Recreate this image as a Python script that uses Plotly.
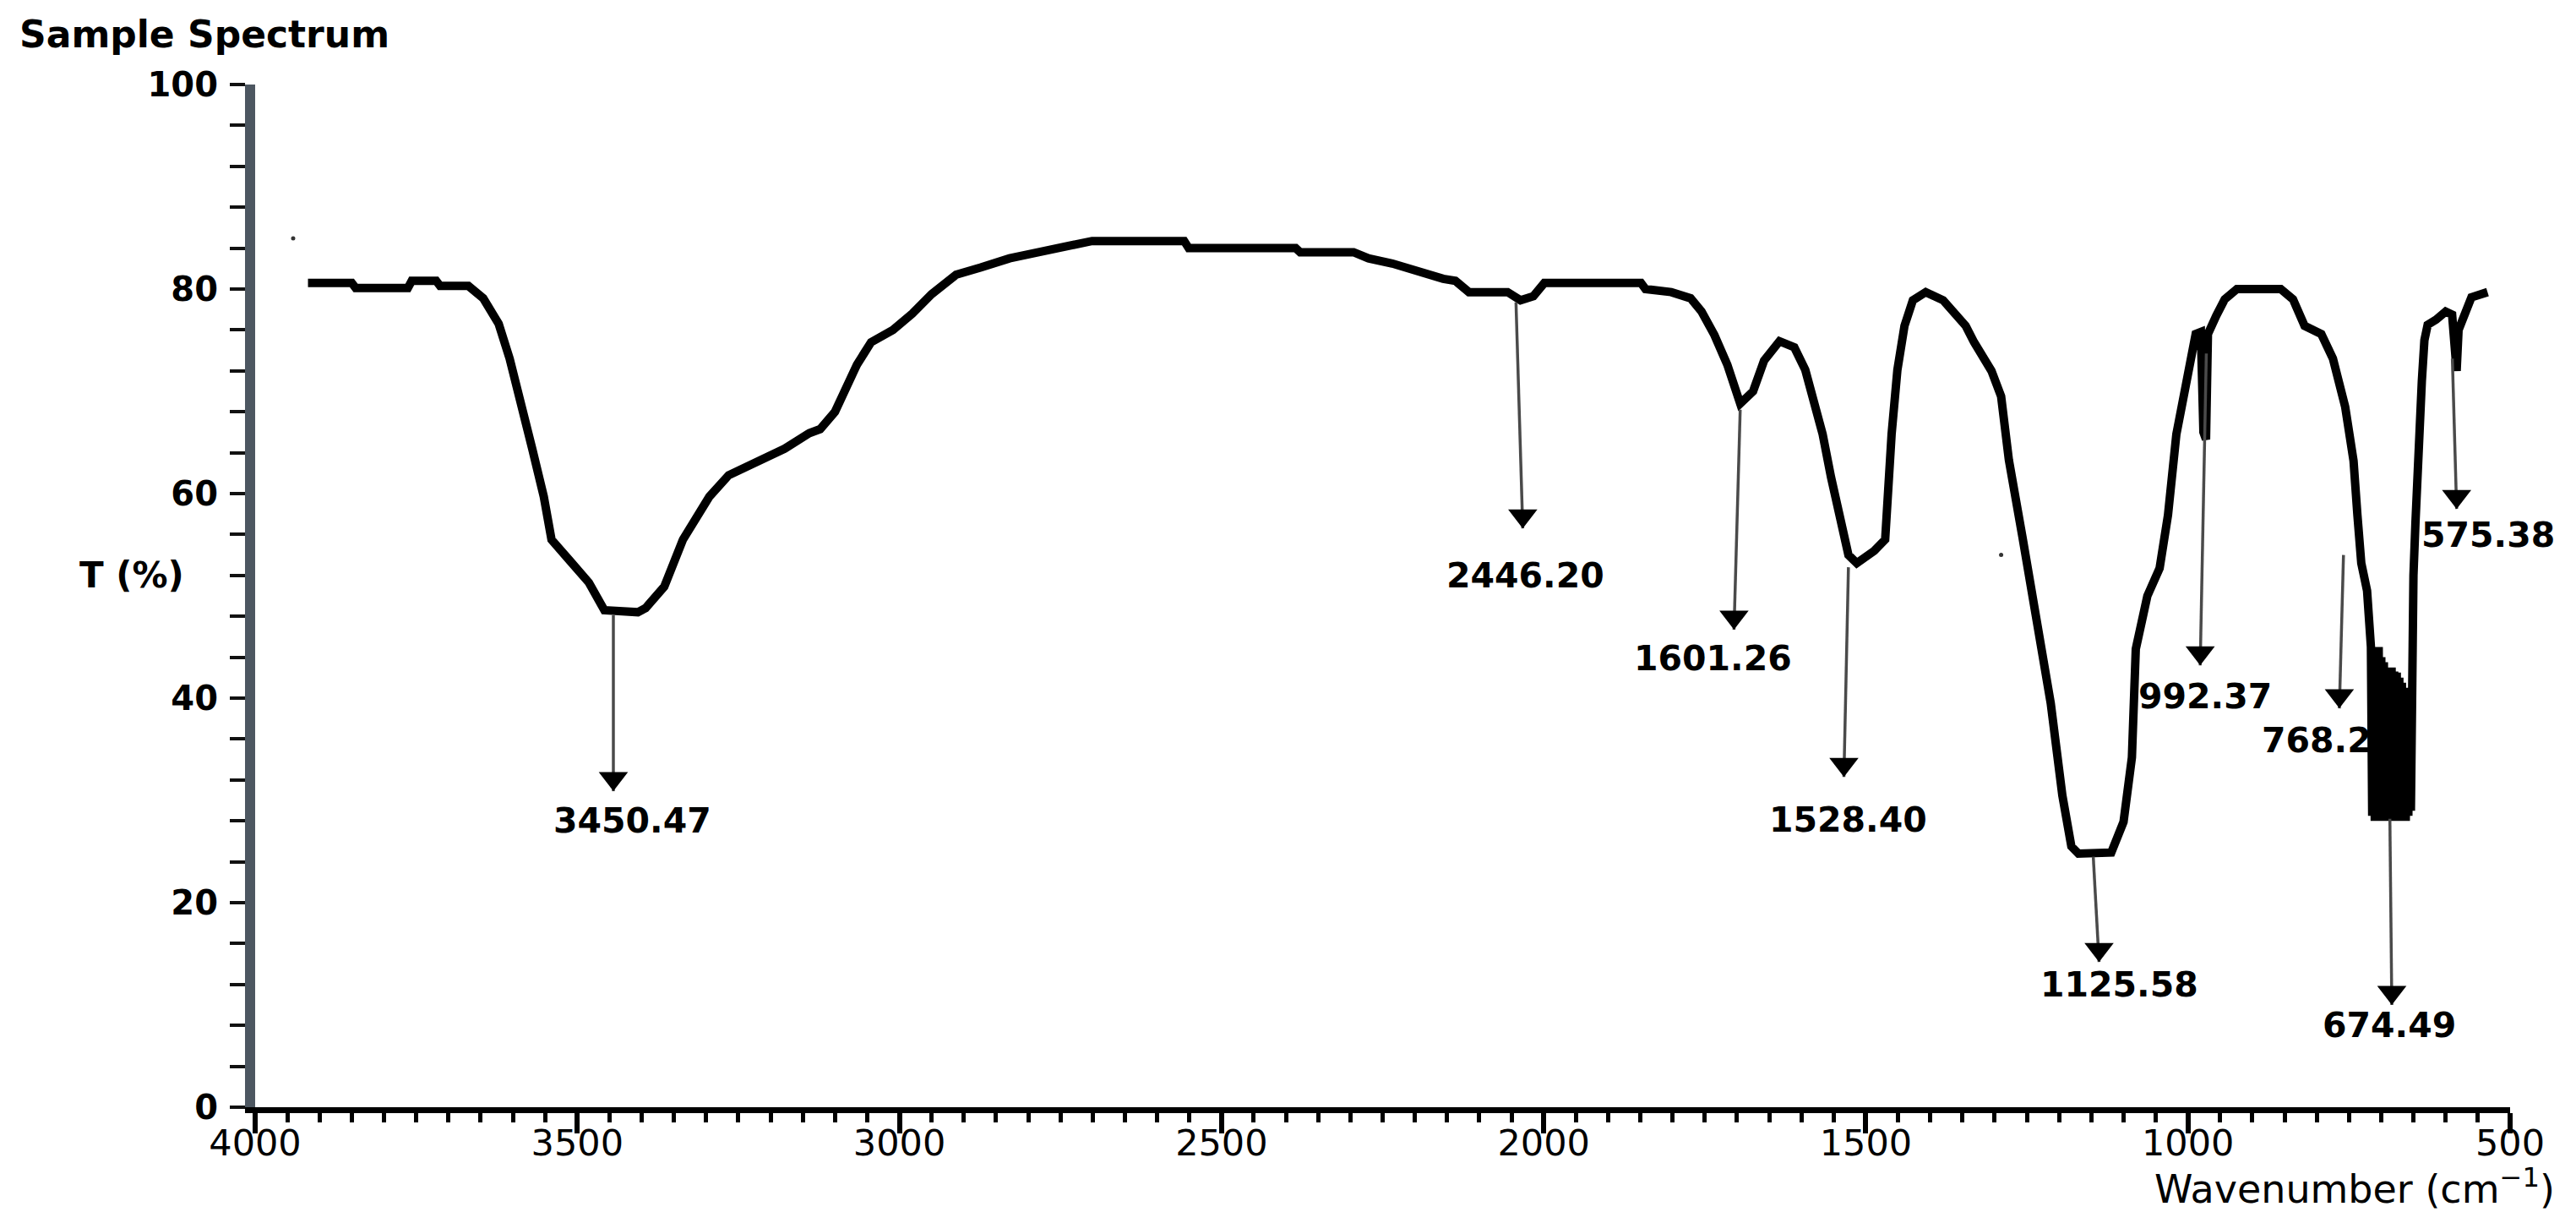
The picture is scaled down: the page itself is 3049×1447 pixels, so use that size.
import plotly.graph_objects as go

# ---------------- data ----------------
wavenumber = [
    3918, 3850, 3844, 3763, 3757, 3719, 3713, 3669, 3646, 3622, 3605, 3587, 3570, 3552, 3540,
    3511, 3482, 3458, 3406, 3394, 3365, 3336, 3295, 3265, 3219, 3178, 3140, 3123, 3100, 3080,
    3066, 3055, 3044, 3010, 2980, 2950, 2912, 2874, 2829, 2784, 2738, 2701, 2558, 2551, 2385,
    2378, 2295, 2272, 2235, 2197, 2156, 2137, 2116, 2056, 2036, 2016, 1999, 1849, 1842, 1802,
    1772, 1755, 1735, 1715, 1695, 1675, 1658, 1634, 1611, 1594, 1581, 1567, 1554, 1541, 1527,
    1514, 1487, 1470, 1467, 1460, 1451, 1440, 1427, 1407, 1380, 1345, 1332, 1305, 1290, 1278,
    1257, 1233, 1213, 1195, 1181, 1170, 1119, 1100, 1087, 1081, 1075, 1063, 1044, 1031, 1018,
    1000, 988, 980, 976, 972, 969, 956, 943, 924, 856, 837, 819, 793, 775, 756,
    743, 737, 731, 722, 719,
    716, 714, 712, 710, 708, 706, 704, 702, 700, 698, 696, 694, 692, 690, 688,
    686, 684, 682, 680, 678, 676, 674, 672, 670, 668, 666, 664, 662, 660, 658,
    656, 654,
    652, 650, 647, 644, 641, 637, 633, 628, 615, 600, 590, 586, 583, 580, 572, 560, 535,
]
transmittance = [
    80.6, 80.6, 80.1, 80.1, 80.8, 80.8, 80.3, 80.3, 79.1, 76.6, 73.2, 69.0, 64.4, 59.7, 55.5,
    53.4, 51.3, 48.6, 48.4, 48.8, 50.9, 55.5, 59.7, 61.8, 63.1, 64.4, 65.9, 66.3, 68.0, 71.0,
    72.6, 73.7, 74.8, 76.0, 77.6, 79.5, 81.4, 82.1, 83.0, 83.6, 84.2, 84.7, 84.7, 84.0, 84.0,
    83.6, 83.6, 83.0, 82.5, 81.7, 81.0, 80.8, 79.7, 79.7, 78.9, 79.3, 80.6, 80.6, 80.0, 79.7,
    79.1, 77.8, 75.5, 72.6, 68.8, 70.0, 73.0, 74.9, 74.3, 72.1, 69.2, 65.8, 61.6, 58.2, 54.0,
    53.2, 54.4, 55.5, 59.1, 65.8, 72.1, 76.4, 78.9, 79.7, 78.9, 76.4, 74.8, 72.0, 69.5, 63.3,
    55.8, 47.5, 39.5, 30.5, 25.5, 24.8, 24.9, 27.9, 34.2, 44.8, 46.9, 50.0, 52.7, 57.9, 65.8,
    72.1, 75.6, 75.8, 66.0, 65.3, 75.6, 77.4, 79.0, 80.0, 80.0, 79.0, 76.4, 75.6, 73.2, 68.5,
    63.2, 57.9, 53.2, 50.5, 45.0,
    45.0, 28.5, 45.0, 28.0, 44.5, 28.5, 45.0, 28.0, 44.0, 28.5, 43.5, 28.0, 43.0, 28.5, 42.5,
    28.0, 43.0, 28.5, 42.6, 28.0, 42.5, 28.5, 42.0, 28.0, 41.5, 28.5, 41.0, 28.0, 40.5, 28.5,
    40.0, 29.0,
    45.0, 52.0, 57.0, 63.0, 66.0, 71.0, 75.0, 76.5, 77.0, 77.8, 77.5, 74.0, 72.0, 76.0, 77.3, 79.2, 79.7,
]

peak_labels = ["3450.47", "2446.20", "1601.26", "1528.40", "1125.58",
               "992.37", "768.2", "674.49", "575.38"]
arrow_tail_x = [3444, 2043, 1695, 1527, 1147, 971.5, 758.6, 686.6, 589.6]
arrow_tail_y = [48.1, 78.7, 68.2, 52.8, 24.5, 73.7, 54.0, 28.2, 73.2]
arrow_head_x = [3444, 2032.5, 1704.6, 1534, 1138, 981, 765, 683.6, 583]
arrow_head_y = [30.9, 56.6, 46.7, 32.3, 14.2, 43.2, 39.0, 10.0, 58.5]
label_x = [3415, 2028, 1737, 1527, 1107, 973.5, 800.8, 688, 534.6]
label_y = [28.05, 52.0, 43.9, 28.1, 12.0, 40.15, 35.9, 8.0, 55.95]

stray_x = [3941, 1290]
stray_y = [84.95, 54.0]

x_ticks = [4000, 3500, 3000, 2500, 2000, 1500, 1000, 500]
y_ticks = [0, 20, 40, 60, 80, 100]

# ---------------- layout geometry ----------------
W, H = 3049, 1447
ML, MR, MT, MB = 294, 86, 92, 145
plot_h = H - MT - MB
plot_w = W - ML - MR
px_per_T = plot_h / 100.0
TRI = 30  # arrowhead marker size
tri_offset = (TRI / 2.0) / px_per_T

fig = go.Figure()

fig.add_trace(go.Scatter(
    x=wavenumber, y=transmittance, mode="lines",
    line=dict(color="black", width=10), hoverinfo="skip", showlegend=False,
))

ax_x, ax_y = [], []
for tx, ty, hx, hy in zip(arrow_tail_x, arrow_tail_y, arrow_head_x, arrow_head_y):
    ax_x += [tx, hx, None]
    ax_y += [ty, hy, None]
fig.add_trace(go.Scatter(
    x=ax_x, y=ax_y, mode="lines",
    line=dict(color="#4a4a4a", width=3.5), hoverinfo="skip", showlegend=False,
))
fig.add_trace(go.Scatter(
    x=arrow_head_x, y=[v + tri_offset for v in arrow_head_y], mode="markers",
    marker=dict(symbol="triangle-down", size=TRI, color="black", line=dict(width=0)),
    hoverinfo="skip", showlegend=False,
))
fig.add_trace(go.Scatter(
    x=stray_x, y=stray_y, mode="markers",
    marker=dict(size=5, color="#333333"), hoverinfo="skip", showlegend=False,
))

for t, lx, ly in zip(peak_labels, label_x, label_y):
    fig.add_annotation(
        x=lx, y=ly, xref="x", yref="y", text=t, showarrow=False,
        xanchor="center", yanchor="middle",
        font=dict(family="DejaVu Sans", size=41, color="black", weight="bold"),
    )

fig.add_annotation(
    x=(84 - ML) / plot_w, y=(H - MB - 672) / plot_h, xref="paper", yref="paper",
    text="T (%)", showarrow=False, xanchor="left", yanchor="middle",
    font=dict(family="DejaVu Sans", size=42, color="black", weight="bold"),
)
fig.add_annotation(
    x=(3018 - ML) / plot_w, y=(H - MB - 1396) / plot_h, xref="paper", yref="paper",
    text="Wavenumber (cm<sup>−1</sup>)", showarrow=False, xanchor="right", yanchor="middle",
    font=dict(family="DejaVu Sans", size=46, color="black"),
)

fig.update_layout(
    width=W, height=H,
    margin=dict(l=ML, r=MR, t=MT, b=MB, pad=0),
    paper_bgcolor="white", plot_bgcolor="white",
    title=dict(
        text="Sample Spectrum", x=15 / W, xanchor="left", xref="container",
        y=1 - 33 / H, yanchor="middle", yref="container",
        font=dict(family="DejaVu Sans", size=44, color="black", weight="bold"),
    ),
    xaxis=dict(
        range=[4000, 500], tickvals=x_ticks, ticktext=[str(v) for v in x_ticks],
        showgrid=False, zeroline=False,
        showline=True, linecolor="black", linewidth=7,
        ticks="outside", ticklen=24, tickwidth=6, tickcolor="black",
        minor=dict(dtick=50, tick0=500, ticks="outside", ticklen=11, tickwidth=5,
                   tickcolor="black", showgrid=False),
        tickfont=dict(family="DejaVu Sans", size=43, color="black"),
        ticklabelstandoff=-26,
    ),
    yaxis=dict(
        range=[0, 100], tickvals=y_ticks, ticktext=[str(v) for v in y_ticks],
        showgrid=False, zeroline=False,
        showline=True, linecolor="#4d5761", linewidth=12,
        ticks="outside", ticklen=18, tickwidth=4, tickcolor="#111111",
        minor=dict(dtick=4, tick0=0, ticks="outside", ticklen=18, tickwidth=4,
                   tickcolor="#111111", showgrid=False),
        tickfont=dict(family="DejaVu Sans", size=40, color="black", weight="bold"),
        ticklabelstandoff=6,
    ),
)

fig.write_html("out.html")
